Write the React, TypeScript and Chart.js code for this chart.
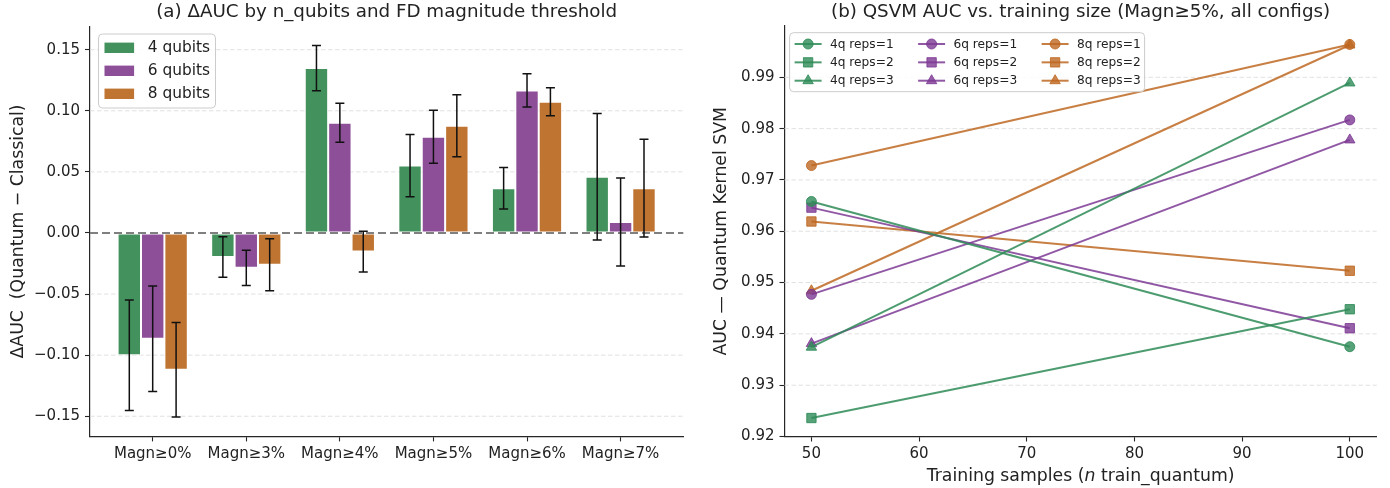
import React, { useEffect, useRef } from 'react';
import { Chart, registerables } from 'chart.js';
Chart.register(...registerables);

const FAMILY = '"DejaVu Sans", sans-serif';
const TEXT = '#222222';
const SPINE = '#262626';

// ---------- Panel (a) data ----------
const thresholds = ['Magn≥0%', 'Magn≥3%', 'Magn≥4%', 'Magn≥5%', 'Magn≥6%', 'Magn≥7%'];
const qubitLabels = ['4 qubits', '6 qubits', '8 qubits'];
const delta4 = [-0.1, -0.0197, 0.135, 0.0552, 0.0366, 0.046];
const delta6 = [-0.0866, -0.0285, 0.0902, 0.0787, 0.1167, 0.009];
const delta8 = [-0.112, -0.026, -0.0152, 0.0878, 0.1074, 0.0367];
const err4 = [0.0452, 0.0166, 0.0185, 0.0255, 0.0169, 0.0518];
const err6 = [0.0432, 0.0144, 0.016, 0.0217, 0.0136, 0.036];
const err8 = [0.0387, 0.0213, 0.0167, 0.0254, 0.0114, 0.04];
const deltaTicks = [-0.15, -0.1, -0.05, 0, 0.05, 0.1, 0.15];
const deltaTickLabels = ['−0.15', '−0.10', '−0.05', '0.00', '0.05', '0.10', '0.15'];
const barColors = ['#43915C', '#8E4F99', '#BF7431'];

// ---------- Panel (b) data ----------
const trainSizes = [50, 100];
const auc4r1 = [0.9658, 0.9375];
const auc4r2 = [0.9236, 0.9448];
const auc4r3 = [0.9374, 0.9889];
const auc6r1 = [0.9477, 0.9817];
const auc6r2 = [0.9646, 0.9411];
const auc6r3 = [0.9381, 0.9778];
const auc8r1 = [0.9728, 0.9964];
const auc8r2 = [0.9619, 0.9523];
const auc8r3 = [0.9484, 0.9963];
const sizeTicks = [50, 60, 70, 80, 90, 100];
const sizeTickLabels = ['50', '60', '70', '80', '90', '100'];
const aucTicks = [0.92, 0.93, 0.94, 0.95, 0.96, 0.97, 0.98, 0.99];
const aucTickLabels = ['0.92', '0.93', '0.94', '0.95', '0.96', '0.97', '0.98', '0.99'];
const lineBase = ['46,139,87', '125,58,148', '190,104,34'];
const qubitTags = ['4q', '6q', '8q'];
const repsTags = ['reps=1', 'reps=2', 'reps=3'];
const markerStyles = ['circle', 'rect', 'triangle'];
const markerRadii = [5, 6.6, 6];

const lineSeries = [
  [auc4r1, auc4r2, auc4r3],
  [auc6r1, auc6r2, auc6r3],
  [auc8r1, auc8r2, auc8r3],
];

const f = (size: number, style = '') => `${style ? style + ' ' : ''}${size}px ${FAMILY}`;

function drawGrid(chart: any, ticks: number[]) {
  const { ctx, chartArea: ca, scales } = chart;
  const ys = scales.y;
  ctx.save();
  ctx.strokeStyle = '#dedede';
  ctx.lineWidth = 0.9;
  ctx.setLineDash([4.5, 2.5]);
  for (const v of ticks) {
    const y = ys.getPixelForValue(v);
    if (Math.abs(y - ca.bottom) < 1.5) continue;
    ctx.beginPath();
    ctx.moveTo(ca.left, y);
    ctx.lineTo(ca.right, y);
    ctx.stroke();
  }
  ctx.restore();
}

function roundRect(ctx: CanvasRenderingContext2D, x: number, y: number, w: number, h: number, r: number) {
  ctx.beginPath();
  ctx.moveTo(x + r, y);
  ctx.lineTo(x + w - r, y);
  ctx.quadraticCurveTo(x + w, y, x + w, y + r);
  ctx.lineTo(x + w, y + h - r);
  ctx.quadraticCurveTo(x + w, y + h, x + w - r, y + h);
  ctx.lineTo(x + r, y + h);
  ctx.quadraticCurveTo(x, y + h, x, y + h - r);
  ctx.lineTo(x, y + r);
  ctx.quadraticCurveTo(x, y, x + r, y);
  ctx.closePath();
}

const tickFont = { family: FAMILY, size: 15 };
const TITLE_SIZE = 18.3;
const LABEL_SIZE = 17.3;

function drawMarker(ctx: CanvasRenderingContext2D, style: string, r: number, x: number, y: number) {
  ctx.beginPath();
  if (style === 'circle') {
    ctx.arc(x, y, r, 0, Math.PI * 2);
  } else if (style === 'rect') {
    const s = r * Math.SQRT1_2;
    ctx.rect(x - s, y - s, 2 * s, 2 * s);
  } else {
    for (let k = 0; k < 3; k++) {
      const a = (k * 2 * Math.PI) / 3;
      const px = x + Math.sin(a) * r;
      const py = y - Math.cos(a) * r;
      if (k === 0) ctx.moveTo(px, py);
      else ctx.lineTo(px, py);
    }
    ctx.closePath();
  }
  ctx.fill();
  ctx.stroke();
}

function LeftChart() {
  const ref = useRef<HTMLCanvasElement>(null);
  useEffect(() => {
    const means = [delta4, delta6, delta8];
    const errs = [err4, err6, err8];
    const plugin = {
      id: 'panelA',
      beforeDatasetsDraw(chart: any) {
        drawGrid(chart, deltaTicks.filter((v) => v !== 0));
      },
      afterDatasetsDraw(chart: any) {
        const { ctx, chartArea: ca, scales } = chart;
        const ys = scales.y;
        const y0 = ys.getPixelForValue(0);
        ctx.save();
        ctx.strokeStyle = '#808080';
        ctx.lineWidth = 2;
        ctx.setLineDash([8, 4]);
        ctx.beginPath();
        ctx.moveTo(ca.left, y0);
        ctx.lineTo(ca.right, y0);
        ctx.stroke();
        ctx.restore();
        ctx.save();
        ctx.strokeStyle = '#111111';
        ctx.lineWidth = 1.5;
        for (let i = 0; i < 3; i++) {
          const meta = chart.getDatasetMeta(i);
          meta.data.forEach((el: any, j: number) => {
            const x = el.x;
            const lo = ys.getPixelForValue(means[i][j] - errs[i][j]);
            const hi = ys.getPixelForValue(means[i][j] + errs[i][j]);
            ctx.beginPath();
            ctx.moveTo(x, lo);
            ctx.lineTo(x, hi);
            ctx.moveTo(x - 4.5, lo);
            ctx.lineTo(x + 4.5, lo);
            ctx.moveTo(x - 4.5, hi);
            ctx.lineTo(x + 4.5, hi);
            ctx.stroke();
          });
        }
        ctx.restore();
      },
      afterDraw(chart: any) {
        const { ctx, chartArea: ca } = chart;
        ctx.save();
        ctx.fillStyle = TEXT;
        ctx.textAlign = 'center';
        ctx.textBaseline = 'middle';
        ctx.font = f(TITLE_SIZE);
        ctx.fillText('(a) ΔAUC by n_qubits and FD magnitude threshold', (ca.left + ca.right) / 2, 12.5);
        ctx.save();
        ctx.translate(19, (ca.top + ca.bottom) / 2);
        ctx.rotate(-Math.PI / 2);
        ctx.font = f(LABEL_SIZE);
        ctx.fillText('ΔAUC  (Quantum − Classical)', 0, 0);
        ctx.restore();
        const bx = ca.left + 8.5;
        const by = ca.top + 7.5;
        ctx.fillStyle = 'rgba(255,255,255,0.85)';
        ctx.strokeStyle = '#cccccc';
        ctx.lineWidth = 1;
        roundRect(ctx, bx, by, 117, 74, 4);
        ctx.fill();
        ctx.stroke();
        ctx.font = f(15.4);
        ctx.textAlign = 'left';
        for (let i = 0; i < 3; i++) {
          const cy = by + 13.8 + i * 23;
          ctx.fillStyle = barColors[i];
          ctx.fillRect(bx + 6, cy - 5.2, 29.6, 10.4);
          ctx.fillStyle = TEXT;
          ctx.fillText(qubitLabels[i], bx + 49.2, cy + 0.5);
        }
        ctx.restore();
      },
    };
    const ds = [delta4, delta6, delta8].map((arr, i) => ({
      label: qubitLabels[i],
      data: arr.map((v, j) => ({ x: j, y: v })),
      backgroundColor: barColors[i],
      borderColor: 'rgba(255,255,255,0.75)',
      borderWidth: 1,
      borderSkipped: false,
      categoryPercentage: 0.75,
      barPercentage: 1,
    }));
    const chart = new Chart(ref.current!, {
      type: 'bar',
      data: { datasets: ds as any },
      options: {
        responsive: false,
        animation: false,
        layout: { padding: { left: 0, top: 26.5, right: 16.7, bottom: 0 } },
        plugins: { legend: { display: false }, tooltip: { enabled: false }, title: { display: false } },
        scales: {
          x: {
            type: 'linear',
            min: -0.67,
            max: 5.67,
            offset: false,
            grid: { display: true, drawOnChartArea: false, drawTicks: true, tickLength: 5, tickColor: SPINE, tickWidth: 1.1, offset: false },
            border: { display: true, color: SPINE, width: 1.2 },
            afterBuildTicks: (s: any) => {
              s.ticks = thresholds.map((_, i) => ({ value: i }));
            },
            afterFit: (s: any) => {
              s.height = 51.6;
            },
            ticks: {
              font: tickFont,
              color: TEXT,
              padding: 4,
              maxRotation: 0,
              autoSkip: false,
              callback: (_v: any, i: number) => thresholds[i],
            },
          },
          y: {
            type: 'linear',
            min: -0.1665,
            max: 0.169,
            grid: { display: true, drawOnChartArea: false, drawTicks: true, tickLength: 5, tickColor: SPINE, tickWidth: 1.1 },
            border: { display: true, color: SPINE, width: 1.2 },
            afterBuildTicks: (s: any) => {
              s.ticks = deltaTicks.map((v) => ({ value: v }));
            },
            afterFit: (s: any) => {
              s.width = 90;
            },
            ticks: {
              font: tickFont,
              color: TEXT,
              padding: 5,
              autoSkip: false,
              callback: (_v: any, i: number) => deltaTickLabels[i],
            },
          },
        },
      },
      plugins: [plugin],
    } as any);
    return () => chart.destroy();
  }, []);
  return <canvas ref={ref} width={700} height={488} style={{ position: 'absolute', left: 0, top: 0, display: 'block' }} />;
}

function RightChart() {
  const ref = useRef<HTMLCanvasElement>(null);
  useEffect(() => {
    const rgba = (q: number, a: number) => `rgba(${lineBase[q]},${a})`;
    const datasets: any[] = [];
    for (let q = 0; q < 3; q++) {
      for (let r = 0; r < 3; r++) {
        const arr = lineSeries[q][r];
        datasets.push({
          label: `${qubitTags[q]} ${repsTags[r]}`,
          data: trainSizes.map((x, i) => ({ x, y: arr[i] })),
          borderColor: rgba(q, 0.85),
          backgroundColor: rgba(q, 0.85),
          borderWidth: 2,
          pointStyle: markerStyles[r],
          pointRadius: markerRadii[r],
          pointBackgroundColor: rgba(q, 0.8),
          pointBorderColor: rgba(q, 0.85),
          pointBorderWidth: 1,
          fill: false,
          tension: 0,
        });
      }
    }
    const plugin = {
      id: 'panelB',
      beforeDatasetsDraw(chart: any) {
        drawGrid(chart, aucTicks);
      },
      afterDraw(chart: any) {
        const { ctx, chartArea: ca } = chart;
        ctx.save();
        ctx.fillStyle = TEXT;
        ctx.textAlign = 'center';
        ctx.textBaseline = 'middle';
        ctx.font = f(TITLE_SIZE);
        ctx.fillText('(b) QSVM AUC vs. training size (Magn≥5%, all configs)', (ca.left + ca.right) / 2, 12.5);
        ctx.save();
        ctx.translate(22, (ca.top + ca.bottom) / 2);
        ctx.rotate(-Math.PI / 2);
        ctx.font = f(LABEL_SIZE);
        ctx.fillText('AUC — Quantum Kernel SVM', 0, 0);
        ctx.restore();
        const parts = [
          { t: 'Training samples (', s: '' },
          { t: 'n', s: 'italic' },
          { t: ' train_quantum)', s: '' },
        ];
        let total = 0;
        const widths = parts.map((p) => {
          ctx.font = f(LABEL_SIZE, p.s);
          const w = ctx.measureText(p.t).width;
          total += w;
          return w;
        });
        let x = (ca.left + ca.right) / 2 - total / 2;
        ctx.textAlign = 'left';
        parts.forEach((p, i) => {
          ctx.font = f(LABEL_SIZE, p.s);
          ctx.fillText(p.t, x, 477);
          x += widths[i];
        });
        const bx = ca.left + 5.1;
        const by = ca.top + 6.7;
        ctx.fillStyle = 'rgba(255,255,255,0.85)';
        ctx.strokeStyle = '#cccccc';
        ctx.lineWidth = 1;
        roundRect(ctx, bx, by, 355, 59, 4);
        ctx.fill();
        ctx.stroke();
        ctx.font = f(12.2);
        for (let q = 0; q < 3; q++) {
          for (let r = 0; r < 3; r++) {
            const hx = bx + 5 + q * 123.5;
            const cy = by + 11.3 + r * 18.35;
            ctx.strokeStyle = rgba(q, 0.85);
            ctx.lineWidth = 2;
            ctx.beginPath();
            ctx.moveTo(hx, cy);
            ctx.lineTo(hx + 27, cy);
            ctx.stroke();
            ctx.fillStyle = rgba(q, 0.8);
            ctx.strokeStyle = rgba(q, 0.85);
            ctx.lineWidth = 1;
            drawMarker(ctx, markerStyles[r], markerRadii[r], hx + 13.5, cy);
            ctx.fillStyle = TEXT;
            ctx.textAlign = 'left';
            ctx.fillText(`${qubitTags[q]} ${repsTags[r]}`, hx + 35.4, cy + 0.5);
          }
        }
        ctx.restore();
      },
    };
    const chart = new Chart(ref.current!, {
      type: 'line',
      data: { datasets },
      options: {
        responsive: false,
        animation: false,
        layout: { padding: { left: 0, top: 26, right: 13.3, bottom: 0 } },
        plugins: { legend: { display: false }, tooltip: { enabled: false }, title: { display: false } },
        scales: {
          x: {
            type: 'linear',
            min: 47.5,
            max: 102.5,
            grid: { display: true, drawOnChartArea: false, drawTicks: true, tickLength: 5, tickColor: SPINE, tickWidth: 1.1 },
            border: { display: true, color: SPINE, width: 1.2 },
            afterBuildTicks: (s: any) => {
              s.ticks = sizeTicks.map((v) => ({ value: v }));
            },
            afterFit: (s: any) => {
              s.height = 51.5;
            },
            ticks: {
              font: tickFont,
              color: TEXT,
              padding: 4,
              maxRotation: 0,
              autoSkip: false,
              callback: (_v: any, i: number) => sizeTickLabels[i],
            },
          },
          y: {
            type: 'linear',
            min: 0.92,
            max: 1.0,
            grid: { display: true, drawOnChartArea: false, drawTicks: true, tickLength: 5, tickColor: SPINE, tickWidth: 1.1 },
            border: { display: true, color: SPINE, width: 1.2 },
            afterBuildTicks: (s: any) => {
              s.ticks = aucTicks.map((v) => ({ value: v }));
            },
            afterFit: (s: any) => {
              s.width = 84.5;
            },
            ticks: {
              font: tickFont,
              color: TEXT,
              padding: 5,
              autoSkip: false,
              callback: (_v: any, i: number) => aucTickLabels[i],
            },
          },
        },
      },
      plugins: [plugin],
    } as any);
    return () => chart.destroy();
  }, []);
  return <canvas ref={ref} width={690} height={488} style={{ position: 'absolute', left: 700, top: 0, display: 'block' }} />;
}

export default function App() {
  useEffect(() => {
    document.body.style.margin = '0';
  }, []);
  return (
    <div style={{ position: 'absolute', left: 0, top: 0, width: 1390, height: 488, background: '#ffffff', overflow: 'hidden' }}>
      <LeftChart />
      <RightChart />
    </div>
  );
}
